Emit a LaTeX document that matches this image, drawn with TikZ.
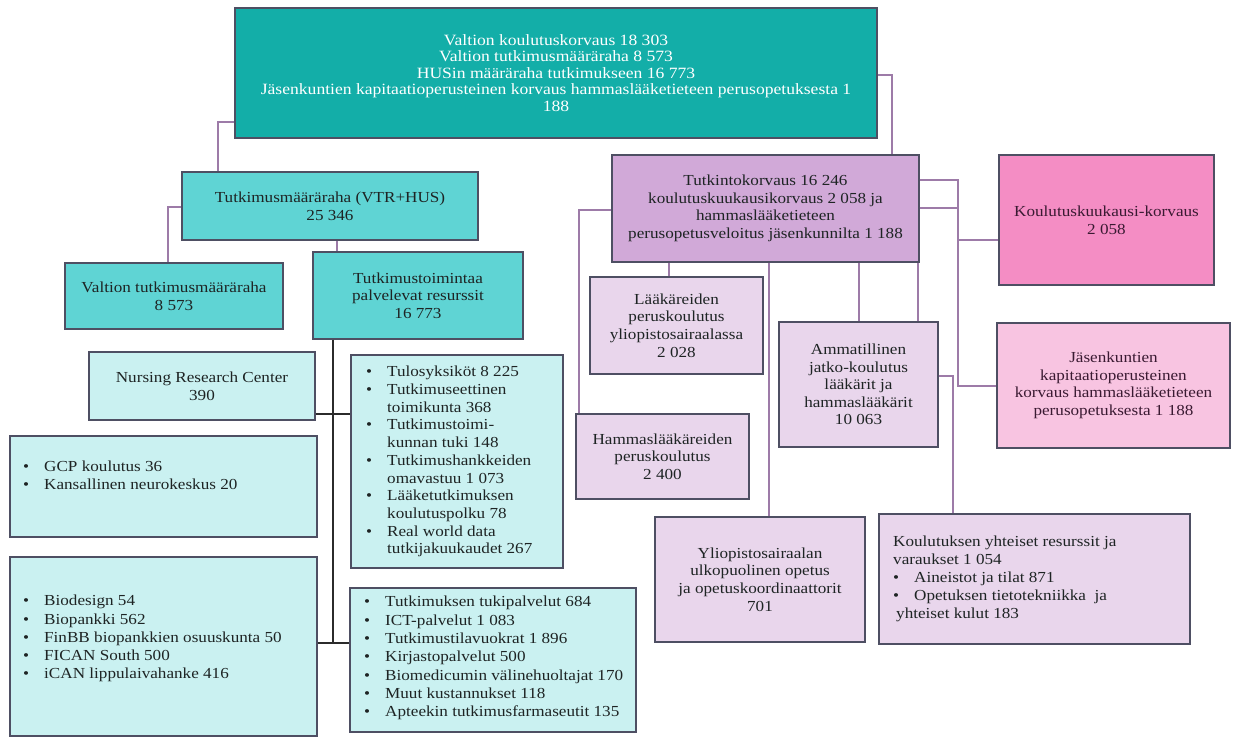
\documentclass[tikz,border=0pt]{standalone}
\usepackage{fontspec}
\setmainfont{Liberation Serif}[FakeStretch=1.12]
\definecolor{topc}{HTML}{13AEA8}
\definecolor{midc}{HTML}{5FD4D4}
\definecolor{lightc}{HTML}{CAF1F1}
\definecolor{purc}{HTML}{D1A9D8}
\definecolor{lpurc}{HTML}{E9D6EC}
\definecolor{pinkc}{HTML}{F48DC4}
\definecolor{lpinkc}{HTML}{F8C4E1}
\definecolor{bord}{HTML}{4E4F63}
\definecolor{connc}{HTML}{9D7BA8}
\definecolor{trunkc}{HTML}{2B2B2B}
\definecolor{txtc}{HTML}{1E2424}
\definecolor{pinktxt}{HTML}{3A1A32}
\newcommand{\bul}{\makebox[21pt][l]{\textbullet}}
\newcommand{\cont}{\hspace*{21pt}}
\begin{document}
\begin{tikzpicture}[x=1pt,y=-1pt,
  every node/.style={font=\fontsize{15.3pt}{17.6pt}\selectfont, text=txtc},
  box/.style={draw=bord, line width=1.2pt, inner sep=0pt, align=center},
  lst/.style={inner sep=0pt, align=left, anchor=north west, font=\fontsize{15.3pt}{18pt}\selectfont},
  conn/.style={draw=connc, line width=1.3pt},
  trunk/.style={draw=trunkc, line width=1.3pt}]
\fill[white] (0,0) rectangle (1240,738);
\useasboundingbox (0,0) rectangle (1240,738);

% ---- boxes ----
\node[box, fill=topc, minimum width=642pt, minimum height=130pt, text=white,
      font=\fontsize{15.7pt}{16.6pt}\selectfont] (top) at (556,73)
  {Valtion koulutuskorvaus 18 303\\ Valtion tutkimusmääräraha 8 573\\ HUSin määräraha tutkimukseen 16 773\\ Jäsenkuntien kapitaatioperusteinen korvaus hammaslääketieteen perusopetuksesta 1\\ 188};

\node[box, fill=midc, minimum width=296pt, minimum height=68pt] (tm) at (330,206)
  {Tutkimusmääräraha (VTR+HUS)\\ 25 346};
\node[box, fill=midc, minimum width=218pt, minimum height=66pt] (vt) at (174,296)
  {Valtion tutkimusmääräraha\\ 8 573};
\node[box, fill=midc, minimum width=210pt, minimum height=87pt] (tp) at (418,295.5)
  {Tutkimustoimintaa\\ palvelevat resurssit\\ 16 773};

\node[box, fill=lightc, minimum width=226pt, minimum height=68pt] (nrc) at (202,386)
  {Nursing Research Center\\ 390};
\node[box, fill=lightc, minimum width=307pt, minimum height=101pt] (gcp) at (163.5,486.5) {};
\node[lst] (gcpt) at (23,461) {\bul GCP koulutus 36\\ \bul Kansallinen neurokeskus 20};

\node[box, fill=lightc, minimum width=212pt, minimum height=213pt] (tul) at (457,461.5) {};
\node[lst, font=\fontsize{15.3pt}{17.7pt}\selectfont] (tult) at (366,366)
  {\bul Tulosyksiköt 8 225\\ \bul Tutkimuseettinen\\ \cont toimikunta 368\\ \bul Tutkimustoimi-\\ \cont kunnan tuki 148\\ \bul Tutkimushankkeiden\\ \cont omavastuu 1 073\\ \bul Lääketutkimuksen\\ \cont koulutuspolku 78\\ \bul Real world data\\ \cont tutkijakuukaudet 267};

\node[box, fill=lightc, minimum width=307pt, minimum height=179pt] (bio) at (163.5,646.5) {};
\node[lst, font=\fontsize{15.3pt}{18.2pt}\selectfont] (biot) at (23,595)
  {\bul Biodesign 54\\ \bul Biopankki 562\\ \bul FinBB biopankkien osuuskunta 50\\ \bul FICAN South 500\\ \bul iCAN lippulaivahanke 416};

\node[box, fill=lightc, minimum width=286pt, minimum height=144pt] (tuk) at (493,660) {};
\node[lst, font=\fontsize{15.3pt}{18.3pt}\selectfont] (tukt) at (364,596)
  {\bul Tutkimuksen tukipalvelut 684\\ \bul ICT-palvelut 1 083\\ \bul Tutkimustilavuokrat 1 896\\ \bul Kirjastopalvelut 500\\ \bul Biomedicumin välinehuoltajat 170\\ \bul Muut kustannukset 118\\ \bul Apteekin tutkimusfarmaseutit 135};

\node[box, fill=purc, minimum width=307pt, minimum height=107pt] (tk) at (765.5,208.5)
  {Tutkintokorvaus 16 246\\ koulutuskuukausikorvaus 2 058 ja\\ hammaslääketieteen\\ perusopetusveloitus jäsenkunnilta 1 188};
\node[box, fill=pinkc, minimum width=215pt, minimum height=130pt, text=pinktxt] (kk) at (1106.5,220)
  {Koulutuskuukausi-korvaus\\ 2 058};
\node[box, fill=lpinkc, minimum width=233pt, minimum height=125pt, text=pinktxt] (jk) at (1113.5,385.5)
  {Jäsenkuntien\\ kapitaatioperusteinen\\ korvaus hammaslääketieteen\\ perusopetuksesta 1 188};
\node[box, fill=lpurc, minimum width=173pt, minimum height=97pt] (lk) at (676.5,325.5)
  {Lääkäreiden\\ peruskoulutus\\ yliopistosairaalassa\\ 2 028};
\node[box, fill=lpurc, minimum width=173pt, minimum height=85pt] (hl) at (662.5,456.5)
  {Hammaslääkäreiden\\ peruskoulutus\\ 2 400};
\node[box, fill=lpurc, minimum width=159pt, minimum height=125pt] (am) at (858.5,384.5)
  {Ammatillinen\\ jatko-koulutus\\ lääkärit ja\\ hammaslääkärit\\ 10 063};
\node[box, fill=lpurc, minimum width=210pt, minimum height=125pt] (yl) at (760,579.5)
  {Yliopistosairaalan\\ ulkopuolinen opetus\\ ja opetuskoordinaattorit\\ 701};
\node[box, fill=lpurc, minimum width=311pt, minimum height=130pt] (ko) at (1034.5,579) {};
\node[lst] (kot) at (893,536)
  {Koulutuksen yhteiset resurssit ja\\ varaukset 1 054\\ \bul Aineistot ja tilat 871\\ \bul Opetuksen tietotekniikka\ \ ja\\ \hspace*{3pt}yhteiset kulut 183};

% ---- connectors ----
\draw[conn] (top.west |- 0,122) -| (tm.north -| 218,0);
\draw[conn] (top.east |- 0,75) -| (tk.north -| 892,0);
\draw[conn] (tm.west |- 0,207) -| (vt.north -| 168,0);
\draw[conn] (tm.south -| 337,0) -- (tp.north -| 337,0);
\coordinate (tend) at (333,643);
\draw[trunk] (tp.south -| tend) -- (tend);
\draw[trunk] (nrc.east |- 0,414) -- (tul.west |- 0,414);
\draw[trunk] (bio.east |- tend) -- (tuk.west |- tend);

\draw[conn] (tk.south -| 669,0) -- (lk.north -| 669,0);
\draw[conn] (tk.west |- 0,210) -| (hl.north -| 579,0);
\draw[conn] (tk.south -| 769,0) -- (yl.north -| 769,0);
\draw[conn] (tk.south -| 859,0) -- (am.north -| 859,0);
\draw[conn] (tk.south -| 918,0) -- (am.north -| 918,0);
\draw[conn] (tk.east |- 0,180) -- (958,180) |- (kk.west |- 0,240);
\draw[conn] (tk.east |- 0,208) -- (958,208) |- (jk.west |- 0,386);
\draw[conn] (am.east |- 0,376) -| (ko.north -| 953,0);
\end{tikzpicture}
\end{document}
